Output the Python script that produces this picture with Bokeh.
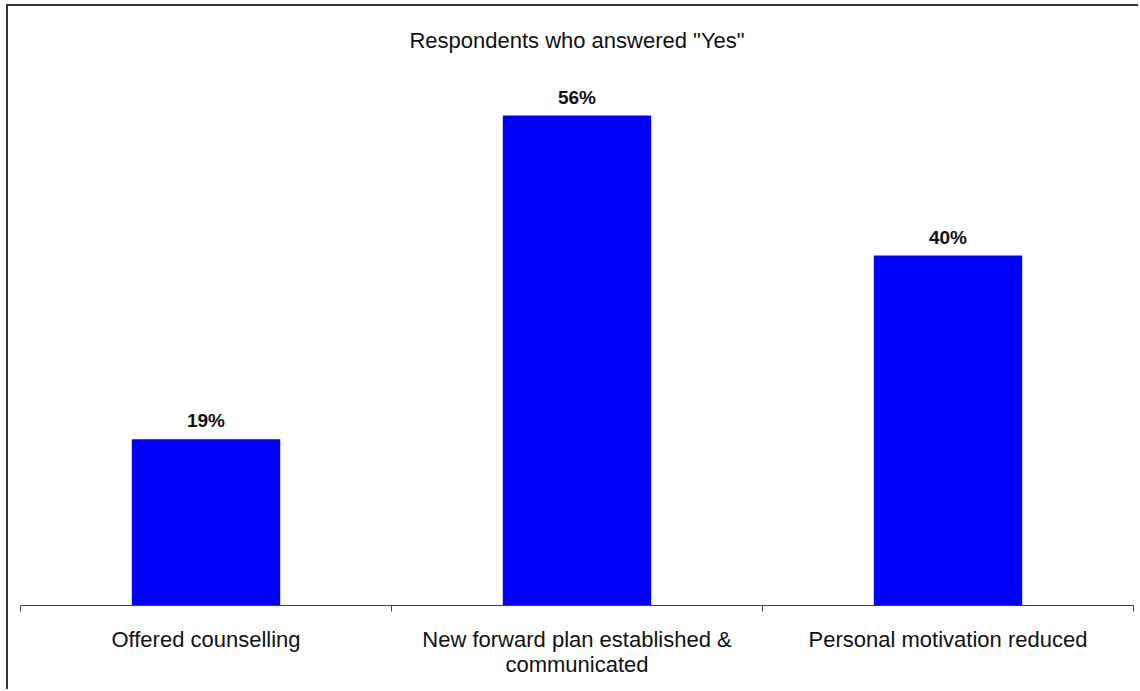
from bokeh.plotting import figure
from bokeh.models import ColumnDataSource, LabelSet, Label, FixedTicker, Range1d
from bokeh.core.properties import value
from bokeh.embed import file_html
from bokeh.resources import INLINE

categories = ["Offered counselling",
              "New forward plan established &\ncommunicated",
              "Personal motivation reduced"]
values = [19, 56, 40]
value_labels = ["19%", "56%", "40%"]
title_text = 'Respondents who answered "Yes"'
y_max = 68

FONT = "Liberation Sans"
x = [i + 0.5 for i in range(len(categories))]
bounds = [float(i) for i in range(len(categories) + 1)]
src = ColumnDataSource(dict(x=x, top=values, label=value_labels))

p = figure(width=1132, height=685, output_backend="svg", toolbar_location=None,
           x_range=Range1d(0, len(categories)), y_range=Range1d(0, y_max),
           min_border_left=12, min_border_right=7, min_border_top=4,
           min_border_bottom=86)
p.margin = (4, 0, 0, 6)
p.styles = {"border-left": "2px solid #333333", "border-top": "2px solid #333333"}

p.vbar(x="x", top="top", width=0.4, source=src, fill_color="#0000FF",
       line_color=None)

p.add_layout(LabelSet(x="x", y="top", text="label", source=src,
                      text_align="center", text_baseline="alphabetic",
                      y_offset=12, text_font=value(FONT),
                      text_font_style="bold", text_font_size="19px",
                      text_color="#111111"))

p.add_layout(Label(x=len(categories) / 2, y=y_max, y_offset=-30, text=title_text,
                   text_align="center", text_baseline="alphabetic",
                   text_font=FONT, text_font_size="22px", text_color="#111111"))

p.yaxis.visible = False
p.xgrid.visible = False
p.ygrid.visible = False
p.outline_line_color = None

ax = p.xaxis[0]
ax.ticker = FixedTicker(ticks=x, minor_ticks=bounds)
ax.major_label_overrides = {xi: c for xi, c in zip(x, categories)}
ax.major_tick_out = 0
ax.major_tick_in = 0
ax.minor_tick_out = 6
ax.minor_tick_in = 0
ax.minor_tick_line_color = "#404040"
ax.axis_line_color = "#404040"
ax.major_label_standoff = 15
ax.major_label_text_font = FONT
ax.major_label_text_font_size = "22px"
ax.major_label_text_line_height = 1.0
ax.major_label_text_color = "#111111"

open("out.html", "w").write(file_html(p, INLINE))
